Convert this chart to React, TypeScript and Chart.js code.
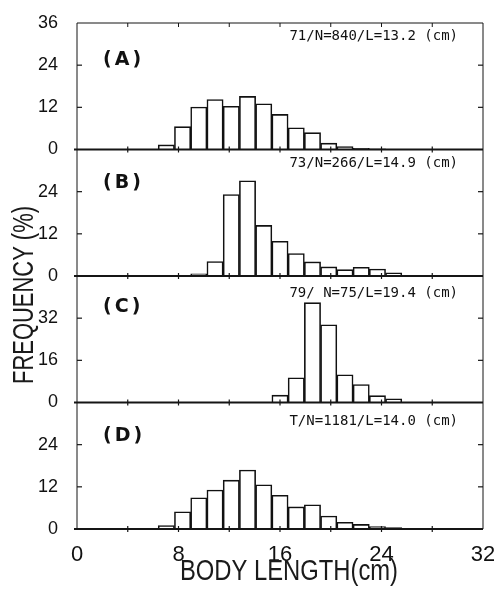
import { useEffect, useRef } from "react";
import { Chart, registerables } from "chart.js";

Chart.register(...registerables);

// 25 length classes of 1.28 cm between 0 and 32 cm
const BIN_WIDTH = 1.28;
const binLabels = Array.from({ length: 25 }, (_, i) =>
  `${(i * BIN_WIDTH).toFixed(2)}-${((i + 1) * BIN_WIDTH).toFixed(2)}`
);

// frequency (%) per length class
const freqA = [0, 0, 0, 0, 0, 1.3, 6.5, 12.1, 14.2, 12.3, 15.1, 13.0, 10.0, 6.2, 4.8, 1.8, 0.8, 0.3, 0.2, 0, 0, 0, 0, 0, 0];
const freqB = [0, 0, 0, 0, 0, 0, 0, 0.6, 4.1, 23.2, 27.1, 14.4, 9.9, 6.4, 4.0, 2.6, 1.8, 2.5, 2.0, 0.9, 0, 0, 0, 0, 0];
const freqC = [0, 0, 0, 0, 0, 0, 0, 0, 0, 0, 0, 0, 2.8, 9.4, 37.9, 29.5, 10.5, 6.8, 2.6, 1.4, 0, 0, 0, 0, 0];
const freqD = [0, 0, 0, 0, 0, 1.0, 4.9, 8.9, 11.1, 13.9, 16.8, 12.6, 9.6, 6.3, 6.9, 3.7, 1.9, 1.3, 0.7, 0.4, 0.2, 0, 0, 0, 0];

const panelTags = ["(A)", "(B)", "(C)", "(D)"];
const panelNotes = [
  "71/N=840/L=13.2 (cm)",
  "73/N=266/L=14.9 (cm)",
  "79/ N=75/L=19.4 (cm)",
  "T/N=1181/L=14.0 (cm)",
];
const yMaxes = [36, 36, 48, 36];
const ySteps = [12, 12, 16, 12];
const xTicks = [0, 8, 16, 24, 32];
const xMarks = [4, 8, 12, 16, 20, 24, 28];

const panelIds = ["yA", "yB", "yC", "yD"];
// text offsets below each panel's top edge
const tagOffsets = [37, 34, 31, 34];
const noteOffsets = [13, 14, 17, 19];

const TICK_FONT = '"Liberation Sans", Arial, sans-serif';

function squashedText(ctx: CanvasRenderingContext2D, text: string, cx: number, cy: number, width: number, rotate: boolean) {
  ctx.save();
  ctx.font = `30px ${TICK_FONT}`;
  const w = ctx.measureText(text).width;
  ctx.translate(cx, cy);
  if (rotate) ctx.rotate(-Math.PI / 2);
  ctx.scale(width / w, 1);
  ctx.textAlign = "center";
  ctx.textBaseline = "middle";
  ctx.fillStyle = "#1a1a1a";
  ctx.fillText(text, 0, 0);
  ctx.restore();
}

const framePlugin = {
  id: "frame",
  afterDatasetsDraw(chart: any) {
    const { ctx, chartArea: a } = chart;
    const xs = chart.scales.xLen;
    const line = (x1: number, y1: number, x2: number, y2: number) => {
      ctx.beginPath();
      ctx.moveTo(x1, y1);
      ctx.lineTo(x2, y2);
      ctx.stroke();
    };
    ctx.save();
    ctx.strokeStyle = "#151515";
    ctx.lineWidth = 1;
    line(a.left, a.top, a.right, a.top);
    line(a.left, a.top, a.left, a.bottom);
    line(a.right, a.top, a.right, a.bottom);
    xMarks.forEach((v) => {
      const x = xs.getPixelForValue(v);
      line(x, a.top, x, a.top + 4);
    });
    panelIds.forEach((id) => {
      const s = chart.scales[id];
      const y0 = s.getPixelForValue(0);
      ctx.lineWidth = 1.8;
      line(a.left - 3, y0, a.right, y0);
      ctx.lineWidth = 1.2;
      s.ticks.forEach((t: any) => {
        if (t.value === 0 || t.value >= s.max) return;
        const y = s.getPixelForValue(t.value);
        line(a.left, y, a.left + 5, y);
        line(a.right - 5, y, a.right, y);
      });
      xMarks.forEach((v) => {
        const x = xs.getPixelForValue(v);
        line(x, y0 - 3, x, y0 + 3);
      });
    });
    ctx.restore();
  },
  afterDraw(chart: any) {
    const { ctx, chartArea: a } = chart;
    ctx.save();
    ctx.fillStyle = "#111";
    ctx.textBaseline = "middle";
    panelIds.forEach((id, i) => {
      const s = chart.scales[id];
      ctx.font = 'bold 19px "DejaVu Sans", sans-serif';
      (ctx as any).letterSpacing = "3px";
      ctx.textAlign = "left";
      ctx.fillText(panelTags[i], 103, s.top + tagOffsets[i]);
      (ctx as any).letterSpacing = "0px";
      ctx.font = '14px "DejaVu Sans Mono", monospace';
      ctx.textAlign = "right";
      ctx.fillText(panelNotes[i], a.right - 25, s.top + noteOffsets[i]);
    });
    ctx.restore();
    squashedText(ctx, "FREQUENCY (%)", 25, 295, 178, true);
    squashedText(ctx, "BODY LENGTH(cm)", 289, 572, 218, false);
  },
};

export default function App() {
  const canvasRef = useRef<HTMLCanvasElement>(null);
  const chartRef = useRef<Chart | null>(null);

  useEffect(() => {
    if (!canvasRef.current) return;
    const series = [freqA, freqB, freqC, freqD];

    const datasets = series.map((vals, i) => ({
      label: panelTags[i],
      data: vals.map((v) => (v > 0 ? v : null)),
      xAxisID: "x",
      yAxisID: panelIds[i],
      grouped: false,
      backgroundColor: "#ffffff",
      borderColor: "#111111",
      borderWidth: 1.6,
      barPercentage: 1,
      categoryPercentage: 1,
    }));

    const yScales: any = {};
    panelIds.forEach((id, i) => {
      yScales[id] = {
        type: "linear",
        position: "left",
        stack: "panels",
        stackWeight: 1,
        weight: 4 - i,
        min: 0,
        max: yMaxes[i],
        grid: { display: false },
        border: { display: false },
        ticks: {
          stepSize: ySteps[i],
          autoSkip: false,
          padding: 11,
          color: "#111",
          font: { family: TICK_FONT, size: 18 },
          callback: (v: any) => (i > 0 && v === yMaxes[i] ? "" : String(v)),
        },
        afterFit: (s: any) => {
          s.width = 77;
        },
      };
    });

    if (chartRef.current) chartRef.current.destroy();
    const ctx = canvasRef.current.getContext("2d");
    if (!ctx) return;

    chartRef.current = new Chart(ctx, {
      type: "bar",
      data: { labels: binLabels, datasets: datasets as any },
      options: {
        animation: false,
        responsive: true,
        maintainAspectRatio: false,
        layout: { padding: { top: 23, right: 11, left: 0, bottom: 0 } },
        plugins: { legend: { display: false }, tooltip: { enabled: false } },
        scales: {
          x: {
            type: "category",
            display: false,
            offset: true,
            grid: { offset: true },
          },
          xLen: {
            type: "linear",
            position: "bottom",
            min: 0,
            max: 32,
            offset: false,
            grid: { display: false, offset: false },
            border: { display: false },
            afterBuildTicks: (s: any) => {
              s.ticks = xTicks.map((v) => ({ value: v }));
            },
            ticks: {
              padding: 5,
              autoSkip: false,
              maxRotation: 0,
              color: "#111",
              font: { family: TICK_FONT, size: 22 },
            },
            afterFit: (s: any) => {
              s.height = 61;
              s.paddingLeft = 0;
              s.paddingRight = 0;
            },
          },
          ...yScales,
        } as any,
      },
      plugins: [framePlugin],
    });

    return () => {
      chartRef.current?.destroy();
      chartRef.current = null;
    };
  }, []);

  return (
    <div style={{ position: "fixed", left: 0, top: 0, width: 494, height: 590, background: "#fff" }}>
      <canvas ref={canvasRef} />
    </div>
  );
}
